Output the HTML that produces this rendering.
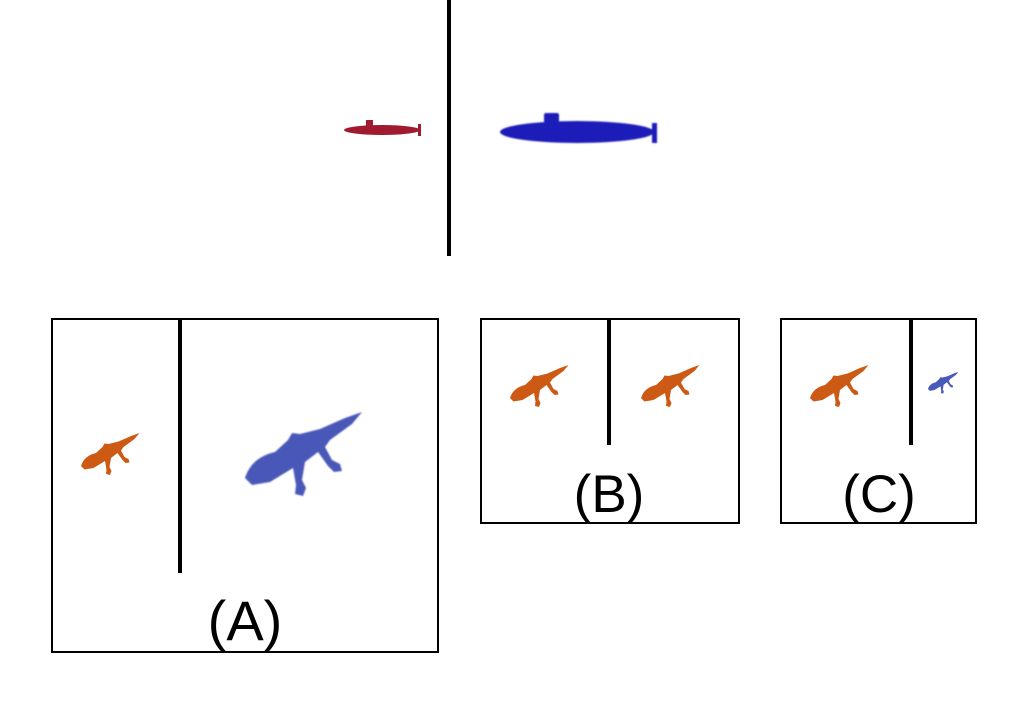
<!DOCTYPE html>
<html><head><meta charset="utf-8"><style>
html,body{margin:0;padding:0;background:#fff;width:1027px;height:702px;overflow:hidden}
svg text{font-family:"Liberation Sans",sans-serif;fill:#000}
</style></head><body>
<svg width="1027" height="702" viewBox="0 0 1027 702">
<defs>
<path id="liz" d="M0,0 C5,-16 17,-23 30,-26 L43,-38 L47,-45 L55,-44 L75,-49 L100,-60 L117,-66 L107,-54 L85,-38 L80,-31 L87,-18 L95,-14 L97,-7 L89,-6 L83,-12 L73,-26 L60,-16 L57,2 L61,10 L58,18 L50,16 L51,7 L48,-10 L25,4 L7,7 Z"/>
<filter id="blur"><feGaussianBlur stdDeviation="0.8"/></filter>
</defs>
<g>
<line x1="449" y1="0" x2="449" y2="256" stroke="#000" stroke-width="4"/>
<g fill="#a01a30">
<ellipse cx="382" cy="130" rx="38" ry="5"/>
<rect x="366" y="120" width="7" height="7"/>
<rect x="418" y="124" width="3" height="12"/>
</g>
<g fill="#1a1ab8" filter="url(#blur)">
<ellipse cx="577" cy="132" rx="77" ry="11"/>
<rect x="544" y="113" width="15" height="10" rx="2"/>
<rect x="652" y="123" width="5" height="20"/>
</g>
</g>
<g>
<rect x="52" y="319" width="386" height="333" fill="none" stroke="#000" stroke-width="2"/>
<line x1="180" y1="318" x2="180" y2="573" stroke="#000" stroke-width="4"/>
<use href="#liz" transform="translate(81,466) scale(0.5)" fill="#cc5a14"/>
<use href="#liz" transform="translate(245,478)" fill="#4a58b8" filter="url(#blur)"/>
<text x="245" y="640" font-size="56" text-anchor="middle">(A)</text>
</g>
<g>
<rect x="481" y="319" width="258" height="204" fill="none" stroke="#000" stroke-width="2"/>
<line x1="609" y1="318" x2="609" y2="445" stroke="#000" stroke-width="4"/>
<use href="#liz" transform="translate(510,398) scale(0.5)" fill="#cc5a14"/>
<use href="#liz" transform="translate(641,398) scale(0.5)" fill="#cc5a14"/>
<text x="609" y="512" font-size="53" text-anchor="middle">(B)</text>
</g>
<g>
<rect x="781" y="319" width="195" height="204" fill="none" stroke="#000" stroke-width="2"/>
<line x1="911" y1="318" x2="911" y2="445" stroke="#000" stroke-width="4"/>
<use href="#liz" transform="translate(810,398) scale(0.5)" fill="#cc5a14"/>
<use href="#liz" transform="translate(928,389) scale(0.26)" fill="#4a58b8"/>
<text x="879" y="512" font-size="53" text-anchor="middle">(C)</text>
</g>
</svg>
</body></html>
